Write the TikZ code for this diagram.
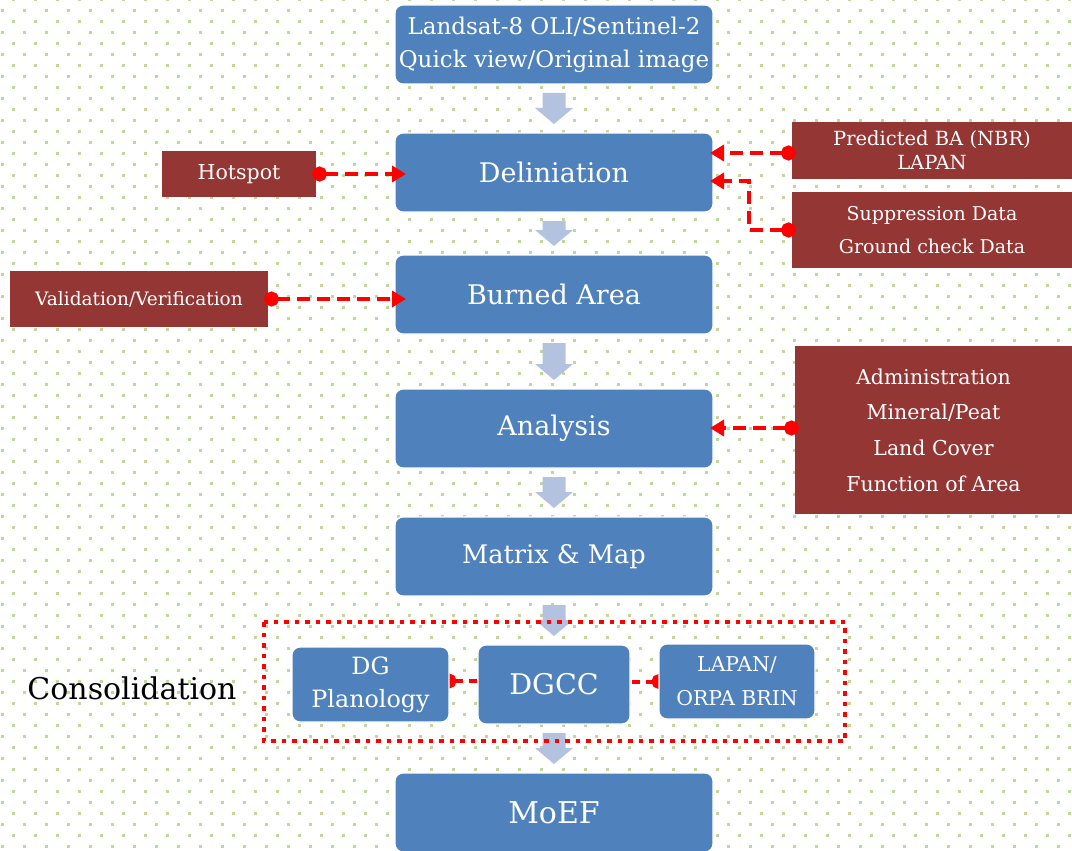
\documentclass[tikz,border=0pt]{standalone}
\usepackage{fontspec}
\setmainfont{DejaVu Serif}
\usepackage{tikz}
\usetikzlibrary{positioning,arrows.meta,calc,backgrounds}

\definecolor{boxblue}{HTML}{4F81BD}
\definecolor{boxred}{HTML}{943634}
\definecolor{linkred}{HTML}{FF0000}
\definecolor{arrblue}{HTML}{B3C2DE}
\definecolor{dotgreen}{HTML}{C3D69B}

% fat grey-blue arrow from the bottom of one box to the top of the next
\newcommand{\downarr}[2]{%
  \fill[arrblue] let \p1=(#1.south), \p2=(#2.north) in
    (\x1-11.5pt,\y1-9pt) -- (\x1+11.5pt,\y1-9pt) -- (\x1+11.5pt,\y2+25pt)
    -- (\x1+19pt,\y2+25pt) -- (\x1,\y2+9pt) -- (\x1-19pt,\y2+25pt)
    -- (\x1-11.5pt,\y2+25pt) -- cycle;}

\begin{document}
\begin{tikzpicture}[
  x=1pt, y=-1pt,
  box/.style={rounded corners=8pt, fill=boxblue, draw=white, line width=1.2pt,
    text=white, align=center, inner sep=2pt, outer sep=0pt},
  mainbox/.style={box, minimum width=318pt, minimum height=79pt,
    font=\fontsize{27pt}{32pt}\selectfont},
  side/.style={fill=boxred, text=white, align=center, inner sep=2pt, outer sep=0pt,
    font=\fontsize{19.5pt}{24pt}\selectfont},
  link/.style={draw=linkred, line width=4pt, dash pattern=on 13pt off 7pt,
    {Circle[length=15pt]}-{Triangle[length=14pt,width=16pt]}, shorten <=-4pt},
  tie/.style={draw=linkred, line width=4pt, dash pattern=on 8pt off 6pt,
    {Circle[length=15pt]}-, shorten <=-7.5pt},
  frame/.style={draw=linkred, line width=4.5pt, dash pattern=on 4.5pt off 6pt}
]
\useasboundingbox (0,0) rectangle (1072,851);

% dotted paper
\begin{scope}[on background layer]
  \clip (0,0) rectangle (1072,851);
  \foreach \i in {0,...,48}{
    \foreach \j in {0,...,39}{
      \fill[dotgreen] (0.8+22*\i,9.2+22*\j) rectangle ++(3,3);
      \fill[dotgreen] (11.8+22*\i,-2.2+22*\j) rectangle ++(3,3);
    }}
\end{scope}

% main chain
\node[mainbox, font=\fontsize{23pt}{33pt}\selectfont] (land) at (554,44.5)
  {Landsat-8 OLI/Sentinel-2\\Quick view/Original image};
\node[mainbox, below=49pt of land] (deli) {Deliniation};
\node[mainbox, below=43pt of deli] (burn) {Burned Area};
\node[mainbox, below=55pt of burn] (anal) {Analysis};
\node[mainbox, below=49pt of anal, font=\fontsize{25.6pt}{30pt}\selectfont] (matx) {Matrix \& Map};
\node[box, below=49pt of matx, minimum width=152pt, minimum height=79pt,
  font=\fontsize{28.5pt}{34pt}\selectfont] (dgcc) {DGCC};
\node[box, left=29pt of dgcc, minimum width=157pt, minimum height=75pt,
  font=\fontsize{23.8pt}{33pt}\selectfont] (dgpl) {DG\\Planology};
\node[box, right=29pt of dgcc, yshift=3pt, minimum width=156pt, minimum height=75pt,
  font=\fontsize{20.4pt}{34pt}\selectfont] (lapn) {LAPAN/\\ORPA BRIN};
\node[mainbox, below=49pt of dgcc, font=\fontsize{30pt}{36pt}\selectfont] (moef) {MoEF};

% inputs
\node[side, left=79pt of deli, minimum width=154pt, minimum height=46pt, yshift=-1.5pt,
  font=\fontsize{20.5pt}{24pt}\selectfont] (hots) {Hotspot};
\node[side, left=127pt of burn, minimum width=258pt, minimum height=56pt, yshift=-4.5pt,
  font=\fontsize{18.5pt}{22pt}\selectfont] (vali) {Validation/Verification};
\node[side, right=79pt of deli, minimum width=280pt, minimum height=57pt, yshift=22pt] (pred)
  {Predicted BA (NBR)\\LAPAN};
\node[side, below=13pt of pred, minimum width=280pt, minimum height=76pt,
  font=\fontsize{19pt}{33pt}\selectfont] (supp) {Suppression Data\\Ground check Data};
\node[side, right=82pt of anal, minimum width=277pt, minimum height=168pt, yshift=-1.5pt,
  font=\fontsize{20.5pt}{35.7pt}\selectfont] (admn)
  {Administration\\Mineral/Peat\\Land Cover\\Function of Area};

\node[font=\fontsize{30pt}{36pt}\selectfont] (cons) at (132,688) {Consolidation};

\downarr{land}{deli}
\downarr{deli}{burn}
\downarr{burn}{anal}
\downarr{anal}{matx}
\downarr{matx}{dgcc}
\downarr{dgcc}{moef}

\draw[frame] (264,622) rectangle (845,741);

\draw[link, shorten >=-11pt] (hots.east) -- (hots.east -| deli.west);
\draw[link, shorten >=-11pt] (vali.east) -- (vali.east -| burn.west);
\draw[link, shorten >=-3pt] ([yshift=-2.5pt]pred.west) -- ([yshift=-2.5pt]pred.west -| deli.east);
\draw[link, shorten >=-3pt] (supp.west) -- ++(-43,0) |- ([yshift=-8.5pt]deli.east);
\draw[link, shorten >=-3pt] ([yshift=2pt]admn.west) -- ([yshift=2pt]admn.west -| anal.east);

\begin{scope}[on background layer]
  \draw[tie] ([yshift=3.5pt]dgpl.east) -- ([yshift=3.5pt]dgcc.west);
  \draw[tie] (lapn.west) -- (lapn.west -| dgcc.east);
\end{scope}
\end{tikzpicture}
\end{document}
